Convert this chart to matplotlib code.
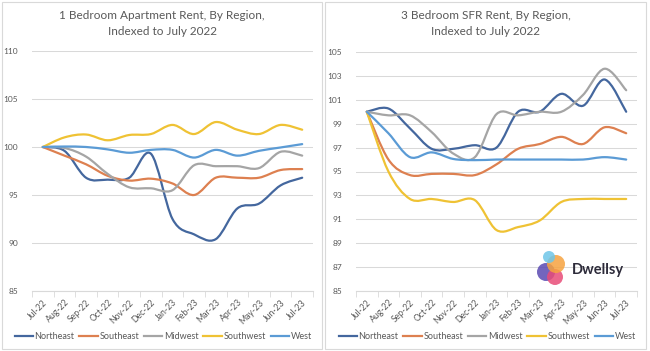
import matplotlib.pyplot as plt
import numpy as np
from matplotlib.path import Path
from matplotlib.patches import PathPatch, Rectangle, Circle
from matplotlib.lines import Line2D

plt.rcParams.update({
    "font.family": ["Lato", "DejaVu Sans"],
    "text.color": "#595959",
    "xtick.color": "#595959",
    "ytick.color": "#595959",
})

months = ['Jul-22', 'Aug-22', 'Sep-22', 'Oct-22', 'Nov-22', 'Dec-22', 'Jan-23',
          'Feb-23', 'Mar-23', 'Apr-23', 'May-23', 'Jun-23', 'Jul-23']
regions = ['Northeast', 'Southeast', 'Midwest', 'Southwest', 'West']
colors = ['#44679E', '#DD8050', '#A5A5A5', '#EFC234', '#5B9BD5']

# 1 bedroom apartment
apt_northeast = [100, 99.6, 96.8, 96.6, 96.8, 99.3, 92.5, 90.9, 90.4, 93.6, 94.1, 96.0, 96.8]
apt_southeast = [100, 99.1, 98.2, 97.0, 96.5, 96.7, 96.2, 95.0, 96.8, 96.8, 96.8, 97.6, 97.7]
apt_midwest = [100, 99.9, 99.0, 97.2, 95.8, 95.7, 95.5, 98.1, 98.0, 98.0, 97.8, 99.5, 99.1]
apt_southwest = [100, 101.0, 101.3, 100.7, 101.25, 101.35, 102.3, 101.35, 102.6, 101.8, 101.35, 102.3, 101.8]
apt_west = [100, 100.05, 100.0, 99.75, 99.4, 99.7, 99.7, 98.9, 99.7, 99.1, 99.6, 99.95, 100.3]

# 3 bedroom SFR
sfr_northeast = [100, 100.27, 98.6, 96.9, 96.9, 97.2, 97.0, 100.0, 100.0, 101.5, 100.5, 102.7, 100.0]
sfr_southeast = [100, 96.0, 94.7, 94.8, 94.8, 94.7, 95.6, 96.9, 97.3, 97.9, 97.3, 98.7, 98.2]
sfr_midwest = [100, 99.7, 99.7, 98.3, 96.5, 96.2, 99.8, 99.7, 100.0, 100.0, 101.4, 103.6, 101.8]
sfr_southwest = [100, 95.0, 92.7, 92.7, 92.45, 92.6, 90.1, 90.35, 90.9, 92.45, 92.7, 92.7, 92.7]
sfr_west = [100, 98.2, 96.2, 96.6, 96.05, 95.95, 96.0, 96.0, 96.0, 96.0, 96.0, 96.2, 96.0]

apt_series = [apt_northeast, apt_southeast, apt_midwest, apt_southwest, apt_west]
sfr_series = [sfr_northeast, sfr_southeast, sfr_midwest, sfr_southwest, sfr_west]


def smooth_path(x, y):
    # excel-like smoothed line: bezier segments through the points
    pts = np.column_stack([x, y]).astype(float)
    ext = np.vstack([pts[0], pts, pts[-1]])
    verts = [pts[0]]
    codes = [Path.MOVETO]
    for i in range(len(pts) - 1):
        p0, p1, p2, p3 = ext[i], ext[i + 1], ext[i + 2], ext[i + 3]
        verts += [p1 + (p2 - p0) / 6, p2 - (p3 - p1) / 6, p2]
        codes += [Path.CURVE4] * 3
    return Path(verts, codes)


fig = plt.figure(figsize=(6.5, 3.51), dpi=100)

# panel frames
for x0, w in [(2, 320), (325, 321)]:
    fig.patches.append(Rectangle((x0 / 650, 2 / 351), w / 650, 347 / 351,
                                 transform=fig.transFigure, fill=False,
                                 edgecolor='#D9D9D9', linewidth=0.8))

ax1 = fig.add_axes([32 / 650, 1 - 291 / 351, 281 / 650, 240 / 351])
ax2 = fig.add_axes([356 / 650, 1 - 291 / 351, 281 / 650, 239 / 351])

x = np.arange(len(months))

panels = [
    (ax1, apt_series, (85, 110), np.arange(85, 111, 5),
     '1 Bedroom Apartment Rent, By Region,\nIndexed to July 2022', 162),
    (ax2, sfr_series, (85, 105), np.arange(85, 106, 2),
     '3 Bedroom SFR Rent, By Region,\nIndexed to July 2022', 485.5),
]

for ax, series, ylim, yticks, title, tx in panels:
    for vals, c in zip(series, colors):
        ax.add_patch(PathPatch(smooth_path(x, vals), fill=False,
                               edgecolor=c, linewidth=1.6, zorder=3,
                               capstyle='round', joinstyle='round'))
    ax.set_xlim(-0.5, len(months) - 0.5)
    ax.set_ylim(*ylim)
    ax.set_yticks(yticks)
    ax.set_xticks(x)
    ax.set_xticklabels(months, rotation=45, ha='right', rotation_mode='anchor',
                       fontsize=6.2)
    ax.set_xticks(np.arange(-0.5, len(months), 1), minor=True)
    ax.tick_params(axis='x', which='major', length=0, pad=5)
    ax.tick_params(axis='x', which='minor', length=4, color='#D9D9D9')
    ax.tick_params(axis='y', length=0, pad=10, labelsize=6)
    ax.yaxis.grid(True, color='#D9D9D9', linewidth=0.75)
    ax.set_axisbelow(True)
    for s in ['top', 'right', 'left']:
        ax.spines[s].set_visible(False)
    ax.spines['bottom'].set_color('#D9D9D9')
    ax.spines['bottom'].set_zorder(1)

    fig.text(tx / 650, 1 - 23.5 / 351, title, ha='center', va='center',
             fontsize=8.5, color='#595959', linespacing=1.6)

    handles = [Line2D([], [], color=c, linewidth=1.6) for c in colors]
    ax.legend(handles, regions, loc='center', bbox_to_anchor=(0.467, -0.19),
              ncol=5, frameon=False, fontsize=6.5, handlelength=2.0,
              handletextpad=0.2, columnspacing=0.55)

# Dwellsy logo
lax = fig.add_axes([536 / 650, 1 - 286 / 351, 32 / 650, 38 / 351])
lax.set_xlim(0, 32)
lax.set_ylim(0, 38)
lax.set_aspect('equal')
lax.axis('off')
for (cx, cy, r, c) in [(10, 14, 9, '#5A4AB2'), (19, 9, 8, '#E84C78'),
                       (20, 22, 9, '#F6A33F'), (13, 29, 6, '#6EC6E8')]:
    lax.add_patch(Circle((cx, cy), r, color=c, alpha=0.85, linewidth=0))
fig.text(572 / 650, 1 - 270 / 351, 'Dwellsy', ha='left', va='center',
         fontsize=10.5, fontweight='bold', color='#2D2B3A')

fig.savefig('out.png', dpi=100)
